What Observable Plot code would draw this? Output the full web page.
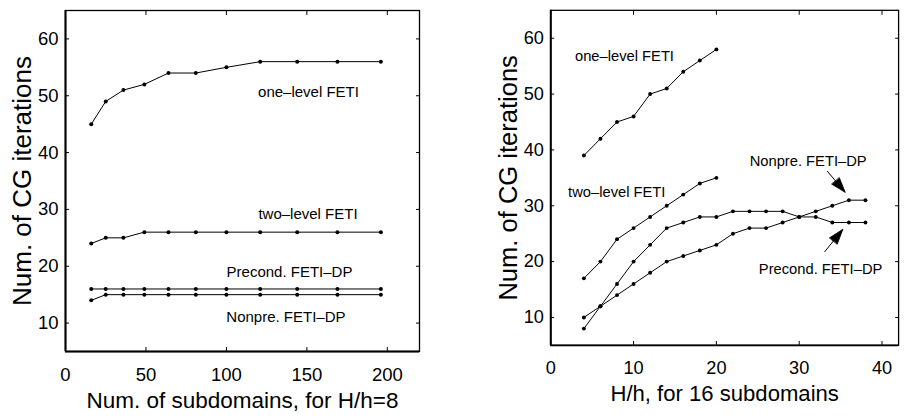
<!DOCTYPE html>
<html>
<head>
<meta charset="utf-8">
<script src="https://cdn.jsdelivr.net/npm/d3@7"></script>
<script src="https://cdn.jsdelivr.net/npm/@observablehq/plot@0.6"></script>
<style>
  html, body { margin: 0; padding: 0; background: #fff; }
  #wrap { position: relative; width: 904px; height: 418px; overflow: hidden; background: #fff; }
  #left { position: absolute; left: 0; top: 0; }
  #right { position: absolute; left: 452px; top: 0; }
</style>
</head>
<body>
<div id="wrap"><div id="left"></div><div id="right"></div></div>
<script>
// ---- Left panel data: iterations vs number of subdomains (H/h = 8)
const leftX = [16, 25, 36, 49, 64, 81, 100, 121, 144, 169, 196];
const leftOneLevel = [45, 49, 51, 52, 54, 54, 55, 56, 56, 56, 56];
const leftTwoLevel = [24, 25, 25, 26, 26, 26, 26, 26, 26, 26, 26];
const leftPrecond  = [16, 16, 16, 16, 16, 16, 16, 16, 16, 16, 16];
const leftNonpre   = [14, 15, 15, 15, 15, 15, 15, 15, 15, 15, 15];

// ---- Right panel data: iterations vs H/h (16 subdomains)
const rightXShort = [4, 6, 8, 10, 12, 14, 16, 18, 20];
const rightXLong  = [4, 6, 8, 10, 12, 14, 16, 18, 20, 22, 24, 26, 28, 30, 32, 34, 36, 38];
const rightOneLevel = [39, 42, 45, 46, 50, 51, 54, 56, 58];
const rightTwoLevel = [17, 20, 24, 26, 28, 30, 32, 34, 35];
const rightPrecond  = [8, 12, 16, 20, 23, 26, 27, 28, 28, 29, 29, 29, 29, 28, 28, 27, 27, 27];
const rightNonpre   = [10, 12, 14, 16, 18, 20, 21, 22, 23, 25, 26, 26, 27, 28, 29, 30, 31, 31];

// ---- Ticks
const yTicks = [10, 20, 30, 40, 50, 60];
const leftXTicks = [0, 50, 100, 150, 200];
const rightXTicks = [0, 10, 20, 30, 40];

// ---- Axis titles
const yTitle = "Num. of CG iterations";
const leftXTitle = "Num. of subdomains, for H/h=8";
const rightXTitle = "H/h, for 16 subdomains";

// ---- Curve labels
const leftLabelText = ["one\u2013level FETI", "two\u2013level FETI", "Precond. FETI\u2013DP", "Nonpre. FETI\u2013DP"];
const leftLabelX = [151, 150.7, 139.2, 137];
const leftLabelY = [50.7, 29.2, 18.95, 11.0];
const rightLabelText = ["one\u2013level FETI", "two\u2013level FETI", "Nonpre. FETI\u2013DP", "Precond. FETI\u2013DP"];
const rightLabelX = [8.9, 7.97, 31.08, 32.58];
const rightLabelY = [56.7, 32.4, 37.9, 18.7];

// ---- Annotation arrows (tail -> tip)
const arrowX1 = [33.37, 33.06];
const arrowY1 = [36.23, 21.73];
const arrowX2 = [35.55, 35.26];
const arrowY2 = [32.41, 25.77];

const FONT = "'Liberation Sans', Arial, Helvetica, sans-serif";

function series(xs, names, ...cols) {
  const out = [];
  cols.forEach((ys, k) => ys.forEach((y, i) => out.push({x: xs[k][i], y, s: names[k]})));
  return out;
}

const leftData = series(
  [leftX, leftX, leftX, leftX],
  ["one", "two", "prec", "non"],
  leftOneLevel, leftTwoLevel, leftPrecond, leftNonpre
);
const rightData = series(
  [rightXShort, rightXShort, rightXLong, rightXLong],
  ["one", "two", "prec", "non"],
  rightOneLevel, rightTwoLevel, rightPrecond, rightNonpre
);
const leftLabels = leftLabelText.map((t, i) => ({t, x: leftLabelX[i], y: leftLabelY[i]}));
const rightLabels = rightLabelText.map((t, i) => ({t, x: rightLabelX[i], y: rightLabelY[i]}));
const arrows = arrowX1.map((_, i) => ({x1: arrowX1[i], y1: arrowY1[i], x2: arrowX2[i], y2: arrowY2[i]}));

// filled arrowhead: tip at origin after anchor "end"
const headShape = {
  draw(context, l) {
    context.moveTo(-5, 0);
    context.lineTo(0, -l);
    context.lineTo(5, 0);
    context.closePath();
  }
};

function common(xTicks, xTitle, xDomain) {
  return [
    Plot.frame({stroke: "black", strokeWidth: 1.3}),
    Plot.ruleX([xDomain[0]], {stroke: "black", strokeWidth: 2}),
    Plot.ruleY([5], {stroke: "black", strokeWidth: 2}),
    Plot.axisY({anchor: "left", ticks: yTicks, tickSize: -4, tickPadding: 11, fontSize: 18.5, label: null}),
    Plot.axisY({anchor: "right", ticks: yTicks, tickSize: -4, tickFormat: () => "", label: null}),
    Plot.axisX({anchor: "bottom", ticks: xTicks, tickSize: -4, tickPadding: 20, fontSize: 18.5, label: null}),
    Plot.axisX({anchor: "top", ticks: xTicks, tickSize: -4, tickFormat: () => "", label: null}),
    Plot.text([xTitle], {frameAnchor: "bottom", dy: 41, lineAnchor: "top", textAnchor: "middle", fontSize: 22.5, fill: "black"}),
    Plot.text([yTitle], {frameAnchor: "left", dx: -42.5, rotate: -90, lineAnchor: "middle", textAnchor: "middle", fontSize: 26, fill: "black"})
  ];
}

const leftPlot = Plot.plot({
  width: 452, height: 418,
  marginLeft: 65, marginRight: 33, marginTop: 10, marginBottom: 67,
  x: {domain: [0, 220]},
  y: {domain: [5, 65]},
  style: {fontFamily: FONT, background: "white", color: "black", overflow: "visible"},
  marks: [
    ...common(leftXTicks, leftXTitle, [0, 220]),
    Plot.line(leftData, {x: "x", y: "y", z: "s", stroke: "black", strokeWidth: 1}),
    Plot.dot(leftData, {x: "x", y: "y", r: 2, fill: "black"}),
    Plot.text(leftLabels, {x: "x", y: "y", text: "t", fontSize: 15, fill: "black", textAnchor: "middle"})
  ]
});
document.getElementById("left").appendChild(leftPlot);

function makeRight(heads) {
  return Plot.plot({
    width: 460, height: 418,
    marginLeft: 100, marginRight: 6, marginTop: 10, marginBottom: 67,
    x: {domain: [0, 42]},
    y: {domain: [5, 65]},
    style: {fontFamily: FONT, background: "white", color: "black", overflow: "visible"},
    marks: [
      ...common(rightXTicks, rightXTitle, [0, 42]),
      Plot.line(rightData, {x: "x", y: "y", z: "s", stroke: "black", strokeWidth: 1}),
      Plot.dot(rightData, {x: "x", y: "y", r: 2, fill: "black"}),
      Plot.text(rightLabels, {x: "x", y: "y", text: "t", fontSize: 15, fill: "black", textAnchor: "middle"}),
      Plot.link(arrows, {x1: "x1", y1: "y1", x2: "x2", y2: "y2", stroke: "black", strokeWidth: 1}),
      heads ? Plot.vector(heads, {x: "x", y: "y", rotate: "rotate", length: 15, anchor: "end", shape: headShape, fill: "black", stroke: "black", strokeWidth: 0.8}) : null
    ]
  });
}

const probe = makeRight(null);
const sx = probe.scale("x"), sy = probe.scale("y");
const heads = arrows.map(a => {
  const dx = sx.apply(a.x2) - sx.apply(a.x1);
  const dy = sy.apply(a.y2) - sy.apply(a.y1);
  return {x: a.x2, y: a.y2, rotate: Math.atan2(dx, -dy) * 180 / Math.PI};
});
document.getElementById("right").appendChild(makeRight(heads));
</script>
</body>
</html>
